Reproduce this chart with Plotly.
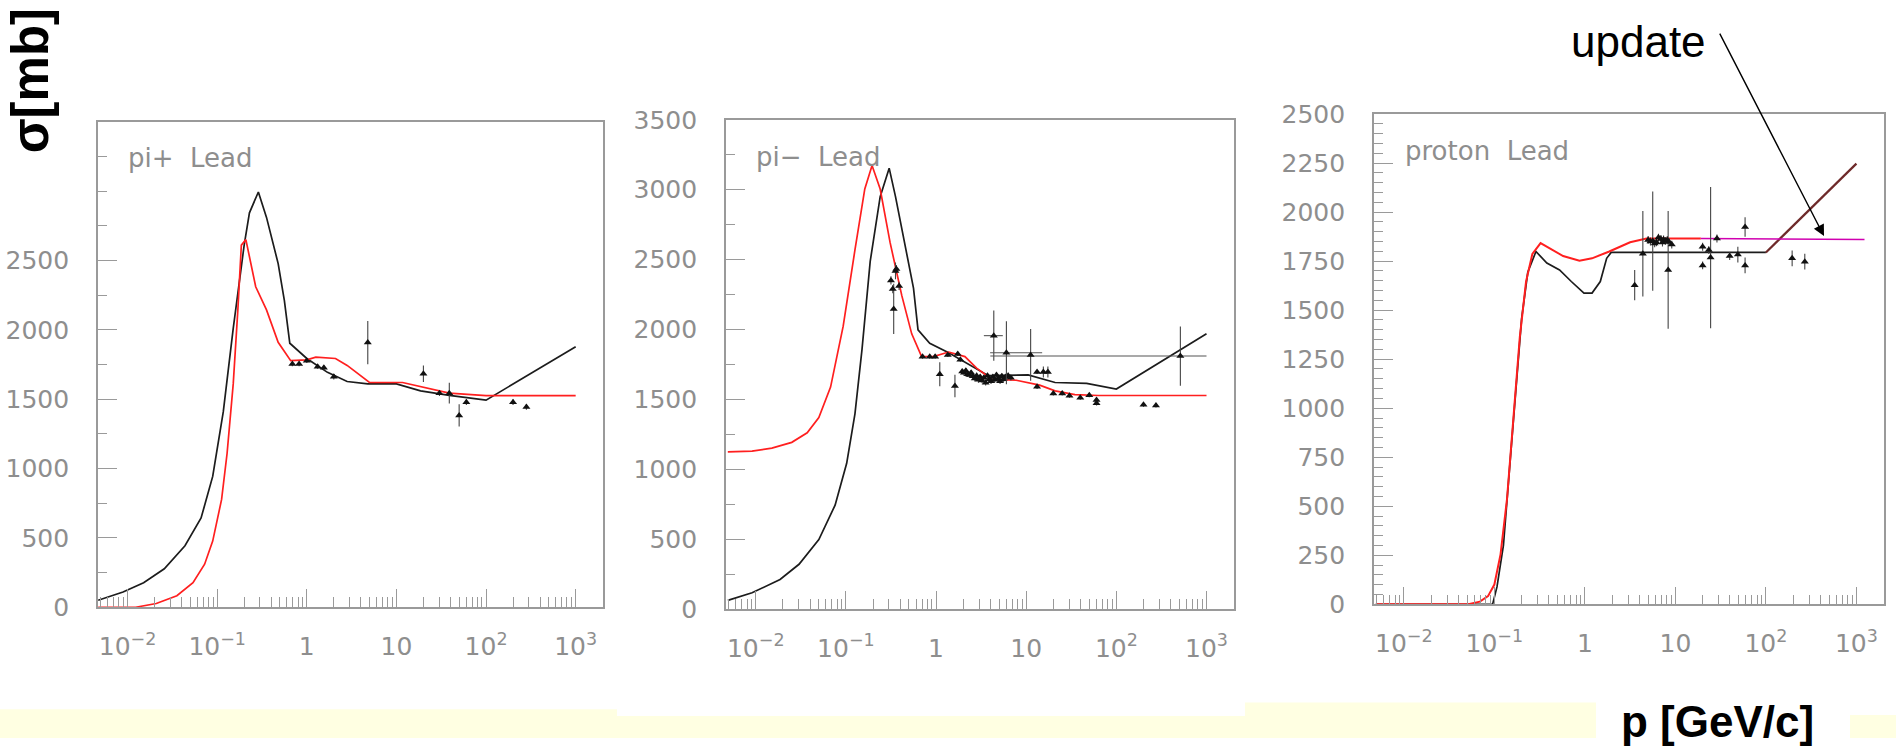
import plotly.graph_objects as go

# ---------------- data: total cross sections on lead, sigma [mb] vs p [GeV/c] ----------------
# pi+ Lead
pip_old_p = [0.0047, 0.0089, 0.0151, 0.0257, 0.0437, 0.0661, 0.0891, 0.117, 0.151, 0.200, 0.229,
             0.288, 0.355, 0.479, 0.562, 0.646, 1.0, 1.70, 2.82, 4.79, 10, 18.6, 38.9, 100, 1000]
pip_old_s = [50, 110, 177, 277, 443, 643, 943, 1410, 2010, 2610, 2843,
             2993, 2810, 2477, 2210, 1903, 1793, 1693, 1627, 1610, 1610, 1560, 1527, 1493, 1877]
pip_new_p = [0.0047, 0.0123, 0.0209, 0.0355, 0.0537, 0.0724, 0.0891, 0.112, 0.129, 0.151, 0.170,
             0.186, 0.209, 0.269, 0.355, 0.479, 0.661, 1.0, 1.26, 2.09, 2.82, 5.0, 11.7, 22.9,
             38.9, 100, 1000]
pip_new_s = [0, 0, 27, 83, 177, 310, 477, 777, 1110, 1610, 2143,
             2610, 2650, 2310, 2143, 1910, 1777, 1783, 1803, 1793, 1743, 1620, 1620, 1577,
             1543, 1525, 1525]
pip_exp_p = [0.69, 0.82, 1.0, 1.32, 1.55, 2.0, 4.79, 20, 30.2, 38.9, 50.1, 60.3, 200, 282]
pip_exp_s = [1753, 1753, 1776, 1734, 1727, 1661, 1908, 1683, 1543, 1543, 1383, 1477, 1477, 1443]
pip_exp_e = [15, 15, 15, 15, 15, 20, 156, 60, 20, 75, 80, 20, 20, 20]

# pi- Lead
pim_old_p = [0.0049, 0.0091, 0.0186, 0.0302, 0.0501, 0.0759, 0.102, 0.126, 0.151, 0.186, 0.240,
             0.302, 0.355, 0.437, 0.562, 0.631, 0.851, 1.38, 2.29, 3.80, 10.5, 20.9, 46.8, 100, 1000]
pim_old_s = [63, 117, 212, 321, 498, 744, 1043, 1397, 1860, 2487, 2950,
             3154, 2950, 2650, 2296, 1997, 1901, 1833, 1752, 1670, 1675, 1621, 1615, 1574, 1970]
pim_new_p = [0.0049, 0.0091, 0.0151, 0.0251, 0.0372, 0.0501, 0.0676, 0.0933, 0.126, 0.162, 0.195,
             0.240, 0.309, 0.417, 0.537, 0.692, 0.933, 1.38, 2.09, 2.82, 4.17, 7.76, 14.1, 20.9,
             34.7, 63.1, 1000]
pim_new_s = [1125, 1130, 1152, 1193, 1261, 1370, 1588, 2024, 2569, 3005, 3173,
             3005, 2623, 2242, 1969, 1806, 1806, 1839, 1806, 1724, 1643, 1637, 1602, 1561,
             1534, 1528, 1528]
pim_exp_p = [0.316, 0.331, 0.339, 0.355, 0.363, 0.389, 0.708, 0.851, 0.977, 1.10, 1.35, 1.62,
             1.74, 1.86, 1.95, 2.04, 2.14, 2.24, 2.34, 2.45, 2.57, 2.69, 2.82, 2.95, 3.09, 3.24,
             3.39, 3.55, 3.72, 3.89, 4.07, 4.27, 4.47, 4.68, 4.90, 5.13, 5.37, 5.62, 5.89, 6.31,
             6.76, 13.2, 13.2, 15.5, 17.4, 20, 25.1, 30.2, 39.8, 50.1, 60.3, 60.3, 200, 275]
pim_exp_s = [2351, 2289, 2147, 2419, 2432, 2312, 1806, 1806, 1806, 1680, 1818, 1596,
             1825, 1784, 1700, 1690, 1705, 1680, 1675, 1690, 1665, 1650, 1670, 1640, 1660, 1635,
             1655, 1620, 1670, 1645, 1630, 1660, 1640, 1675, 1650, 1630, 1665, 1645, 1660, 1670,
             1655, 1696, 1590, 1696, 1696, 1543, 1543, 1527, 1512, 1530, 1495, 1472, 1462, 1457]
pim_exp_e = [30, 30, 180, 60, 30, 30, 15, 15, 15, 85, 15, 80,
             15, 15, 20, 20, 20, 20, 20, 20, 20, 20, 20, 20, 20, 20,
             20, 20, 20, 20, 20, 20, 20, 20, 20, 20, 20, 20, 20, 20,
             20, 15, 15, 40, 40, 15, 15, 15, 15, 15, 15, 15, 15, 15]
# wide-bin measurements (x error bars)
pim_wide_p = [4.37, 6.03, 11.2, 513]
pim_wide_s = [1956, 1834, 1818, 1810]
pim_wide_e = [180, 225, 185, 212]
pim_wide_xplus = [1.13, 9.0, 0, 487]
pim_wide_xminus = [0.98, 2.05, 0, 509]

# proton Lead
pro_old_p = [0.0049, 0.0955, 0.107, 0.126, 0.145, 0.170, 0.200, 0.234, 0.288, 0.380, 0.525,
             0.708, 0.977, 1.20, 1.48, 1.74, 1.95, 100]
pro_old_s = [0, 0, 90, 302, 656, 1056, 1457, 1693, 1799, 1740, 1705,
             1646, 1587, 1587, 1646, 1764, 1794, 1794]
pro_high_p = [100, 1000]
pro_high_s = [1794, 2247]
pro_new_p = [0.0049, 0.0501, 0.0692, 0.0851, 0.1, 0.117, 0.138, 0.162, 0.191, 0.224, 0.263,
             0.324, 0.417, 0.575, 0.871, 1.20, 1.86, 3.16, 4.79, 19.1]
pro_new_s = [0, 0, 14, 42, 101, 255, 538, 938, 1363, 1646, 1787,
             1842, 1811, 1776, 1752, 1764, 1799, 1846, 1865, 1865]
pro_upd_p = [19.1, 1230]
pro_upd_s = [1865, 1860]
pro_exp_p = [3.55, 4.37, 5.0, 5.3, 5.62, 5.9, 6.17, 6.5, 6.92, 7.2, 7.4, 7.76, 8.13, 8.32, 8.5,
             9.12, 20, 20, 23.4, 24.5, 28.8, 39.8, 49.0, 58.9, 58.9, 195, 269]
pro_exp_s = [1627, 1787, 1858, 1850, 1852, 1840, 1846, 1870, 1863, 1845, 1860, 1853, 1858, 1705,
             1848, 1834, 1823, 1728, 1806, 1768, 1865, 1776, 1783, 1924, 1728, 1764, 1747]
pro_exp_e = [77, 218, 20, 20, 253, 20, 20, 20, 20, 20, 20, 20, 20, 300, 20,
             20, 20, 20, 20, 360, 20, 20, 40, 50, 40, 40, 40]

panel_labels = ["pi+  Lead", "pi\u2212  Lead", "proton  Lead"]
x_tickvals = [0.01, 0.1, 1, 10, 100, 1000]
x_ticktext = ["10<sup>\u22122</sup>", "10<sup>\u22121</sup>", "1", "10", "10<sup>2</sup>", "10<sup>3</sup>"]

# ---------------- styling ----------------
GREY = "#8e8e8e"
FRAME = "#9a9a9a"
BLACK_LINE = "#1c1c1c"
RED_LINE = "#ff1f1f"
TICK_FONT = dict(family="DejaVu Sans", size=25, color=GREY)

fig = go.Figure()


def curve(px, sy, color, axis, width=1.7):
    fig.add_trace(go.Scatter(x=px, y=sy, mode="lines", line=dict(color=color, width=width),
                             xaxis="x" + axis, yaxis="y" + axis, showlegend=False, hoverinfo="skip"))


def points(px, sy, err, axis, xplus=None, xminus=None):
    ex = None
    if xplus is not None:
        ex = dict(type="data", array=xplus, arrayminus=xminus, color="#555555", thickness=1.1, width=0)
    fig.add_trace(go.Scatter(x=px, y=sy, mode="markers",
                             marker=dict(symbol="triangle-up", size=7, color="#111111"),
                             error_y=dict(type="data", array=err, color="#444444", thickness=1.1, width=0),
                             error_x=ex,
                             xaxis="x" + axis, yaxis="y" + axis, showlegend=False))


# panel 1
curve(pip_old_p, pip_old_s, BLACK_LINE, "")
curve(pip_new_p, pip_new_s, RED_LINE, "")
points(pip_exp_p, pip_exp_s, pip_exp_e, "")
# panel 2
curve(pim_old_p, pim_old_s, BLACK_LINE, "2")
curve(pim_new_p, pim_new_s, RED_LINE, "2")
points(pim_exp_p, pim_exp_s, pim_exp_e, "2")
points(pim_wide_p, pim_wide_s, pim_wide_e, "2", pim_wide_xplus, pim_wide_xminus)
# panel 3
curve(pro_old_p, pro_old_s, BLACK_LINE, "3")
curve(pro_high_p, pro_high_s, "#6e2a2a", "3", width=2.2)
curve(pro_new_p, pro_new_s, RED_LINE, "3", width=2.0)
curve(pro_upd_p, pro_upd_s, "#d000b0", "3", width=1.6)
points(pro_exp_p, pro_exp_s, pro_exp_e, "3")

W, H = 1896, 753
# plot frames in pixels: (left, right, top, bottom)
frames = [(98, 603, 112, 617), (726, 1234, 110, 619), (1374, 1884, 104, 614)]
y_tops = [3500, 3500, 2500]
minor_x = [m * 10.0 ** k for k in range(-3, 4) for m in range(2, 10)]

layout = dict(width=W, height=H, margin=dict(l=0, r=0, t=0, b=0),
              paper_bgcolor="white", plot_bgcolor="white", showlegend=False)

for i, (l, r, t, b) in enumerate(frames):
    sfx = "" if i == 0 else str(i + 1)
    if i == 0:
        yvals = [0, 500, 1000, 1500, 2000, 2500]
        yminor = 250
    elif i == 1:
        yvals = [0, 500, 1000, 1500, 2000, 2500, 3000, 3500]
        yminor = 250
    else:
        yvals = [0, 250, 500, 750, 1000, 1250, 1500, 1750, 2000, 2250, 2500]
        yminor = 50
    ytext = [str(v) for v in yvals]
    layout["xaxis" + sfx] = dict(
        type="log", range=[-2.33, 3.305], domain=[l / W, r / W], anchor="y" + sfx,
        showgrid=False, zeroline=False, showline=True, linecolor=FRAME, linewidth=1.6, mirror=True,
        ticks="inside", ticklen=18, tickwidth=1.4, tickcolor=FRAME,
        tickmode="array", tickvals=x_tickvals, ticktext=x_ticktext, tickfont=TICK_FONT,
        ticklabelstandoff=16,
        minor=dict(tickmode="array", tickvals=minor_x, ticks="inside", ticklen=10,
                   tickwidth=1.2, tickcolor=FRAME, showgrid=False),
    )
    layout["yaxis" + sfx] = dict(
        range=[0, y_tops[i]], domain=[1 - b / H, 1 - t / H], anchor="x" + sfx,
        showgrid=False, zeroline=False, showline=True, linecolor=FRAME, linewidth=1.6, mirror=True,
        ticks="inside", ticklen=19, tickwidth=1.4, tickcolor=FRAME,
        tickmode="array", tickvals=yvals, ticktext=ytext, tickfont=TICK_FONT,
        ticklabelstandoff=22,
        minor=dict(dtick=yminor, tick0=0, ticks="inside", ticklen=9, tickwidth=1.2,
                   tickcolor=FRAME, showgrid=False),
    )

fig.update_layout(**layout)

# slide background bands
shapes = []
for x0, x1, y0 in [(0, 617, 723), (617, 1245, 730), (1245, 1596, 716), (1850, 1896, 729)]:
    shapes.append(dict(type="rect", xref="paper", yref="paper", x0=x0 / W, x1=x1 / W,
                       y0=0, y1=1 - y0 / H, fillcolor="#ffffe2", line=dict(width=0), layer="below"))
fig.update_layout(shapes=shapes)

annotations = []
label_pos = [(126, 150), (754, 149), (1403, 143)]
for txt, (lx, ly) in zip(panel_labels, label_pos):
    annotations.append(dict(text=txt, xref="paper", yref="paper", x=lx / W, y=1 - ly / H,
                            xanchor="left", yanchor="middle", showarrow=False,
                            font=dict(family="DejaVu Sans", size=26, color=GREY)))

annotations.append(dict(text="<b>\u03c3[mb]</b>", xref="paper", yref="paper", x=30 / W, y=1 - 70 / H,
                        xanchor="center", yanchor="middle", textangle=-90, showarrow=False,
                        font=dict(family="Liberation Sans", size=51, color="black")))
annotations.append(dict(text="<b>p [GeV/c]</b>", xref="paper", yref="paper", x=1717 / W, y=1 - 736 / H,
                        xanchor="center", yanchor="middle", showarrow=False, bgcolor="white",
                        font=dict(family="Liberation Sans", size=44, color="black")))
annotations.append(dict(text="update", xref="paper", yref="paper", x=1638 / W, y=1 - 29 / H,
                        xanchor="center", yanchor="middle", showarrow=False,
                        font=dict(family="Liberation Sans", size=44, color="black")))
annotations.append(dict(text="", xref="paper", yref="paper", x=1824 / W, y=1 - 231 / H,
                        ax=-105, ay=-204, showarrow=True, arrowhead=2, arrowsize=1.6,
                        arrowwidth=1.4, arrowcolor="black"))
fig.update_layout(annotations=annotations)

fig.write_html("out.html")
